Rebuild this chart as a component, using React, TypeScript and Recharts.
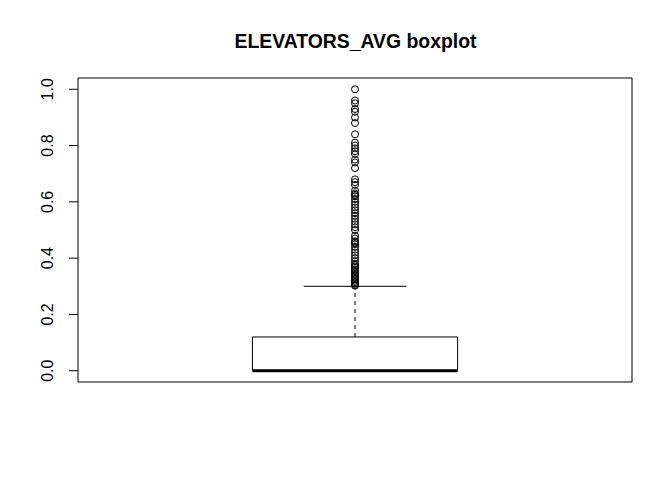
import {
  ComposedChart,
  ReferenceArea,
  ReferenceLine,
  Scatter,
  XAxis,
  YAxis
} from "recharts";

// Five-number summary (median and Q1 sit on zero).
const BOX_Q1 = 0;
const BOX_MEDIAN = 0;
const BOX_Q3 = 0.12;
const WHISKER_LOW = 0;
const WHISKER_HIGH = 0.3;

// Points above the upper whisker.
const OUTLIERS = [
  1.0, 0.96, 0.95, 0.93, 0.92, 0.9, 0.88, 0.84, 0.81, 0.8, 0.79, 0.78, 0.77, 0.75, 0.74, 0.72,
  0.68, 0.67, 0.66, 0.64, 0.63, 0.625, 0.62, 0.61, 0.6, 0.59, 0.58, 0.57, 0.56, 0.55, 0.54,
  0.53, 0.52, 0.51, 0.5, 0.48, 0.47, 0.46, 0.455, 0.45, 0.44, 0.43, 0.42, 0.41, 0.4, 0.39,
  0.38, 0.375, 0.37, 0.365, 0.36, 0.355, 0.35, 0.345, 0.34, 0.335, 0.33, 0.325, 0.32, 0.315,
  0.31, 0.305, 0.302
];

const Y_TICKS = [0, 0.2, 0.4, 0.6, 0.8, 1.0];
const TITLE = "ELEVATORS_AVG boxplot";

const FONT = "'Liberation Sans', Arial, sans-serif";

function RotatedTick(props: any) {
  const { x, y, payload } = props;
  return (
    <text
      transform={`translate(${x - 16},${y}) rotate(-90)`}
      textAnchor="middle"
      fontSize={16}
      fontFamily={FONT}
      fill="#000"
    >
      {Number(payload.value).toFixed(1)}
    </text>
  );
}

function OpenCircle(props: any) {
  const { cx, cy } = props;
  return <circle cx={cx} cy={cy} r={3.5} fill="none" stroke="#000" strokeWidth={1} />;
}

export default function App() {
  const points = OUTLIERS.map((v) => ({ x: 1, y: v }));
  return (
    <div style={{ position: "absolute", left: 0, top: 0, width: 672, height: 480, background: "#fff" }}>
      <svg width={672} height={480} style={{ position: "absolute", left: 0, top: 0 }}>
        <text x={355.5} y={48} textAnchor="middle" fontSize={19.4} fontWeight="bold" fontFamily={FONT} fill="#000">
          {TITLE}
        </text>
      </svg>
      <div style={{ position: "absolute", left: 0, top: 0 }}>
        <ComposedChart width={672} height={480} margin={{ top: 78, right: 40, bottom: 98, left: 0 }}>
          <XAxis type="number" dataKey="x" domain={[0.46, 1.54]} hide />
          <YAxis
            type="number"
            dataKey="y"
            domain={[-0.04, 1.04]}
            ticks={Y_TICKS}
            width={78}
            axisLine={false}
            tickSize={9}
            tickMargin={0}
            tickLine={{ stroke: "#000" }}
            tick={<RotatedTick />}
            allowDataOverflow
          />
          <ReferenceArea x1={0.46} x2={1.54} y1={-0.04} y2={1.04} fill="none" stroke="#000" strokeWidth={1} fillOpacity={0} />
          <ReferenceArea x1={0.8} x2={1.2} y1={BOX_Q1} y2={BOX_Q3} fill="none" stroke="#000" strokeWidth={1} fillOpacity={0} />
          <ReferenceLine segment={[{ x: 0.8, y: BOX_MEDIAN }, { x: 1.2, y: BOX_MEDIAN }]} stroke="#000" strokeWidth={3} />
          <ReferenceLine segment={[{ x: 1, y: BOX_Q3 }, { x: 1, y: WHISKER_HIGH }]} stroke="#000" strokeDasharray="4 4" />
          <ReferenceLine segment={[{ x: 0.9, y: WHISKER_HIGH }, { x: 1.1, y: WHISKER_HIGH }]} stroke="#000" />
          <ReferenceLine segment={[{ x: 0.9, y: WHISKER_LOW }, { x: 1.1, y: WHISKER_LOW }]} stroke="#000" />
          <Scatter data={points} dataKey="y" shape={<OpenCircle />} isAnimationActive={false} />
        </ComposedChart>
      </div>
    </div>
  );
}
